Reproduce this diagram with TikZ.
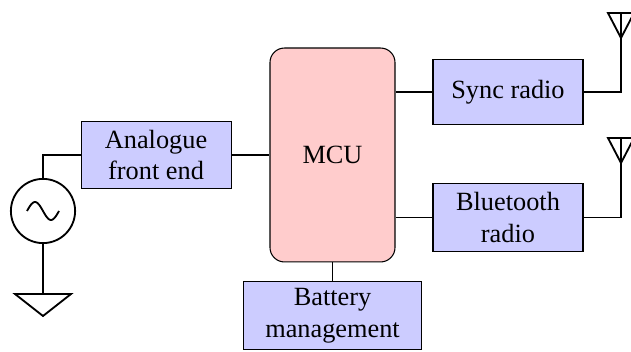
\documentclass[tikz,border=0pt]{standalone}
\usepackage{fontspec}
\setmainfont{Liberation Serif}
\usetikzlibrary{positioning}
\begin{document}
\begin{tikzpicture}[
  x=0.38pt,y=-0.38pt,
  pbox/.style={draw,align=center,inner sep=0pt,minimum height=25.8pt,
               minimum width=57pt,fill=blue!20},
  mcubox/.style={draw,rounded corners=5.5pt,align=center,minimum height=81.3pt,
               minimum width=47.5pt,fill=red!20},
  srcnode/.style={draw,circle,line width=0.7pt,inner sep=0pt,minimum size=24.4pt},
  wire/.style={line width=0.4pt},
  sym/.style={line width=0.7pt}
]
\useasboundingbox (0,0) rectangle (631,352);
\node[mcubox] at (332.5,155) (mcu) {MCU};
\node[pbox,left=14.4pt of mcu] (afe) {Analogue\\front end};
\node[pbox,minimum width=67.6pt,below=7.2pt of mcu] (batt) {Battery\\management};
\node[pbox,minimum height=25pt] at (508,92) (sync) {Sync radio};
\node[pbox,below=22pt of sync] (bt) {Bluetooth\\radio};
\node[srcnode] at (43,211) (src) {};
\coordinate (gnd) at (43,294);
\coordinate (ant1) at (621,38);
\coordinate (ant2) at (621,163);
\draw[wire] (afe.west) -| (src.north);
\draw[wire] (src.south) -- (gnd);
\draw[wire] (afe.east) -- (mcu.west);
\draw[wire] (mcu.south) -- (batt.north);
\draw[wire] (sync.west) -- (sync.west -| mcu.east);
\draw[wire] (bt.west) -- (bt.west -| mcu.east);
\draw[wire] (sync.east) -| (ant1);
\draw[wire] (bt.east) -| (ant2);
\draw[sym,shift={(src.center)}] plot[domain=-16:16,samples=30,smooth] (\x,{9*sin(\x*11.25)});
\draw[sym] (gnd) +(-28,0) -- +(28,0) -- +(0,22) -- cycle;
\draw[sym] (ant1) -- +(-13,-25) -- +(13,-25) -- cycle (ant1) -- +(0,-25);
\draw[sym] (ant2) -- +(-13,-25) -- +(13,-25) -- cycle (ant2) -- +(0,-25);
\end{tikzpicture}
\end{document}
